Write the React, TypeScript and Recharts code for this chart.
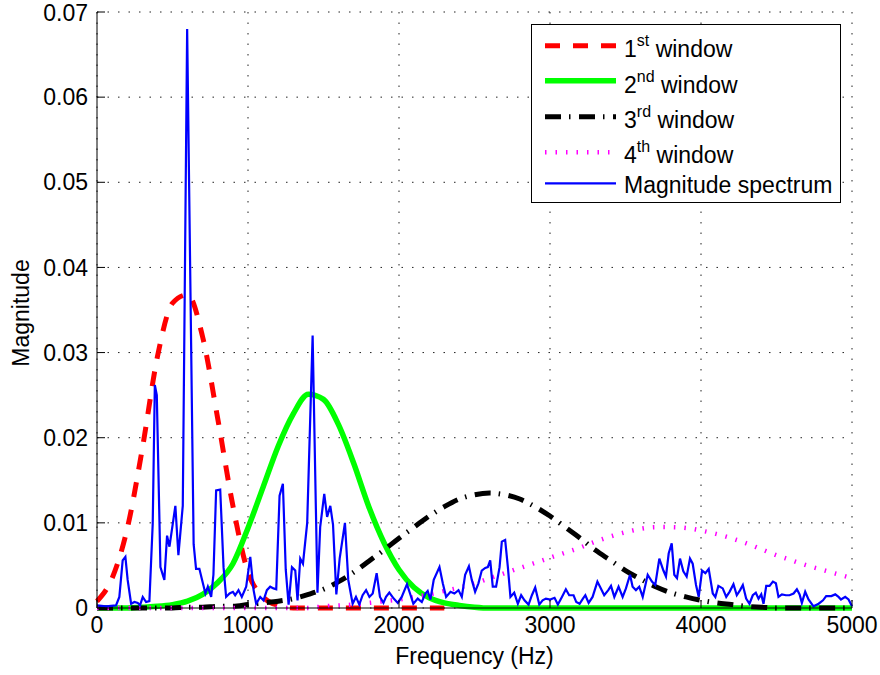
import React from "react";
import { LineChart, Line, XAxis, YAxis, CartesianGrid, Legend } from "recharts";

// analysis windows, sampled every 100 Hz
const windowFreq = [
  0, 100, 200, 300, 400, 500, 600, 700, 800, 900, 1000, 1100, 1200, 1300, 1400, 1500, 1600,
  1700, 1800, 1900, 2000, 2100, 2200, 2300, 2400, 2500, 2600, 2700, 2800, 2900, 3000, 3100,
  3200, 3300, 3400, 3500, 3600, 3700, 3800, 3900, 4000, 4100, 4200, 4300, 4400, 4500, 4600,
  4700, 4800, 4900, 5000,
];
const window1 = [
  0.0008, 0.0035, 0.0093, 0.0187, 0.0295, 0.0358, 0.0368, 0.0318, 0.0222, 0.012, 0.0042,
  0.0013, 0.0003, 0, 0, 0, 0, 0, 0, 0, 0, 0, 0, 0, null, null, null, null, null, null, null,
  null, null, null, null, null, null, null, null, null, null, null, null, null, null, null,
  null, null, null, null, null,
];
const window2 = [
  0, 0, 0, 0.0001, 0.0002, 0.0004, 0.0008, 0.0016, 0.003, 0.0052, 0.0094, 0.0142, 0.019,
  0.0228, 0.0251, 0.0245, 0.0215, 0.017, 0.0119, 0.0077, 0.0045, 0.0024, 0.0012, 0.0006,
  0.0003, 0.0001, 0, 0, 0, 0, 0, 0, 0, 0, 0, 0, 0, 0, 0, 0, 0, 0, 0, 0, 0, 0, 0, 0, 0, 0, 0,
];
const window3 = [
  0, 0, 0, 0, 0, 0, 0.0001, 0.0001, 0.0002, 0.0002, 0.0004, 0.0006, 0.0008, 0.0011, 0.0016,
  0.0022, 0.0031, 0.0042, 0.0055, 0.0068, 0.0082, 0.0095, 0.0108, 0.0119, 0.0128, 0.0133,
  0.0135, 0.0133, 0.0128, 0.0119, 0.0108, 0.0095, 0.0082, 0.0068, 0.0056, 0.0044, 0.0034,
  0.0025, 0.0018, 0.0013, 0.0009, 0.0006, 0.0004, 0.0002, 0.0001, 0, 0, 0, 0, 0, 0,
];
const window4 = [
  0, 0, 0, 0, 0, 0, 0, 0, 0, 0, 0, 0, 0, 0, 0, 0.0002, 0.0003, 0.0004, 0.0006, 0.0008, 0.001,
  0.0013, 0.0016, 0.002, 0.0024, 0.0029, 0.0035, 0.0041, 0.0047, 0.0053, 0.0059, 0.0065,
  0.0071, 0.0078, 0.0084, 0.0089, 0.0093, 0.0095, 0.0095, 0.0094, 0.0091, 0.0087, 0.0082,
  0.0076, 0.0069, 0.0062, 0.0056, 0.005, 0.0045, 0.004, 0.0035,
];

// magnitude spectrum (Hz, magnitude)
const spectrumFreq = [
  0, 60, 126, 148, 170, 188, 203, 226, 248, 270, 285, 303, 325, 347, 369, 383, 396, 420, 446,
  464, 480, 519, 539, 568, 597, 640, 656, 678, 696, 718, 734, 756, 771, 789, 816, 838, 855,
  878, 900, 915, 937, 959, 988, 1015, 1037, 1054, 1081, 1103, 1125, 1147, 1169, 1187, 1209,
  1231, 1250, 1269, 1291, 1313, 1328, 1346, 1364, 1392, 1428, 1460, 1478, 1505, 1524, 1545,
  1563, 1585, 1607, 1642, 1664, 1693, 1715, 1737, 1759, 1782, 1804, 1826, 1852, 1874, 1897,
  1914, 1936, 1965, 1992, 2018, 2053, 2073, 2095, 2124, 2151, 2175, 2190, 2208, 2230, 2268,
  2290, 2312, 2341, 2367, 2394, 2416, 2438, 2463, 2482, 2504, 2526, 2548, 2571, 2588, 2604,
  2621, 2643, 2666, 2681, 2703, 2721, 2738, 2763, 2787, 2809, 2831, 2858, 2880, 2902, 2929,
  2951, 2973, 3001, 3030, 3052, 3079, 3105, 3127, 3156, 3174, 3196, 3218, 3234, 3256, 3282,
  3314, 3337, 3359, 3386, 3404, 3426, 3454, 3481, 3503, 3530, 3547, 3569, 3591, 3614, 3647,
  3675, 3697, 3724, 3751, 3768, 3786, 3806, 3823, 3841, 3861, 3883, 3905, 3927, 3945, 3967,
  3985, 4007, 4029, 4051, 4078, 4095, 4115, 4144, 4167, 4189, 4215, 4237, 4259, 4277, 4299,
  4321, 4343, 4363, 4381, 4399, 4414, 4432, 4454, 4476, 4496, 4513, 4536, 4562, 4586, 4613,
  4635, 4653, 4668, 4690, 4712, 4745, 4779, 4808, 4829, 4863, 4889, 4911, 4927, 4955, 4977,
  5000,
];
const spectrumMag = [
  0.0003, 0.0002, 0.0003, 0.0013, 0.0056, 0.006, 0.0033, 0.0005, 0.0007, 0.0006, 0.0003,
  0.0013, 0.0007, 0.0008, 0.0099, 0.0262, 0.025, 0.0048, 0.0033, 0.0085, 0.0072, 0.012,
  0.0062, 0.012, 0.068, 0.0075, 0.0046, 0.0046, 0.0033, 0.0017, 0.0025, 0.0013, 0.0039,
  0.0138, 0.0139, 0.0048, 0.0013, 0.0017, 0.0019, 0.0015, 0.0021, 0.0013, 0.0025, 0.006,
  0.0021, 0.0005, 0.0013, 0.0009, 0.0021, 0.0025, 0.0023, 0.0022, 0.0132, 0.0146, 0.0045,
  0.0004, 0.0048, 0.0044, 0.0009, 0.0058, 0.0052, 0.01, 0.032, 0.0018, 0.0095, 0.0134,
  0.0107, 0.012, 0.0098, 0.0016, 0.0058, 0.01, 0.0033, 0.0005, 0.0013, 0.0004, 0.0015,
  0.0021, 0.0013, 0.0017, 0.0041, 0.0013, 0.0006, 0.0013, 0.0018, 0.0011, 0.0006, 0.0013,
  0.0028, 0.0017, 0.0005, 0.0011, 0.0007, 0.0017, 0.002, 0.001, 0.0033, 0.0048, 0.0029,
  0.0013, 0.0019, 0.0017, 0.0021, 0.0013, 0.0039, 0.0049, 0.0033, 0.0019, 0.0029, 0.0044,
  0.0047, 0.0048, 0.0056, 0.0025, 0.0025, 0.0048, 0.0078, 0.008, 0.0048, 0.0013, 0.0018,
  0.0005, 0.0015, 0.0009, 0.0004, 0.0015, 0.0024, 0.0004, 0.0009, 0.0011, 0.001, 0.0012,
  0.0004, 0.0013, 0.0022, 0.0015, 0.0015, 0.0007, 0.0005, 0.0011, 0.0015, 0.0006, 0.0013,
  0.0031, 0.0023, 0.0015, 0.0021, 0.0026, 0.0013, 0.0025, 0.0013, 0.0023, 0.0039, 0.0025,
  0.0021, 0.0025, 0.0013, 0.0039, 0.0031, 0.0027, 0.0058, 0.0044, 0.0037, 0.0064, 0.0076,
  0.0039, 0.0035, 0.0058, 0.0043, 0.0037, 0.0058, 0.0052, 0.0027, 0.0013, 0.0044, 0.0041,
  0.0046, 0.0017, 0.0013, 0.0026, 0.0023, 0.0013, 0.0019, 0.0028, 0.0015, 0.0021, 0.0027,
  0.0011, 0.0005, 0.0015, 0.0018, 0.0011, 0.0016, 0.0005, 0.0026, 0.0026, 0.0031, 0.0029,
  0.0013, 0.0016, 0.0015, 0.0015, 0.0017, 0.0022, 0.0016, 0.0006, 0.0019, 0.001, 0.0002,
  0.0005, 0.0009, 0.0014, 0.0014, 0.0016, 0.0013, 0.001, 0.0013, 0.001, 0.0002,
];

const xTicks = [0, 1000, 2000, 3000, 4000, 5000];
const yTicks = [0, 0.01, 0.02, 0.03, 0.04, 0.05, 0.06, 0.07];

const series = [
  { key: "w1", num: "1", sup: "st", name: " window", color: "#ff0000", width: 5, dash: "15 13" },
  { key: "w2", num: "2", sup: "nd", name: " window", color: "#00ff00", width: 5.5, dash: undefined },
  { key: "w3", num: "3", sup: "rd", name: " window", color: "#000000", width: 5, dash: "16 8 1.5 8.5" },
  { key: "w4", num: "4", sup: "th", name: " window", color: "#ff00ff", width: 4.5, dash: "1.5 9" },
  { key: "mag", num: "", sup: "", name: "Magnitude spectrum", color: "#0000ff", width: 2.2, dash: undefined },
];

const windowRows = windowFreq.map((f, i) => ({
  f,
  w1: window1[i],
  w2: window2[i],
  w3: window3[i],
  w4: window4[i],
}));
const spectrumRows = spectrumFreq.map((f, i) => ({ f, mag: spectrumMag[i] }));

const FONT = "'Liberation Sans', Arial, Helvetica, sans-serif";
const tickStyle = { fill: "#000", fontSize: 23, fontFamily: FONT };

const legendLineY = [21.7, 56.7, 92.7, 128.3, 159.3];
const legendBaseY = [32.5, 68.7, 104, 139.3, 169.3];

const renderLegend = () => (
  <svg width={310} height={179} style={{ display: "block" }}>
    <rect x={0.5} y={0.5} width={309} height={178} fill="#fff" stroke="#000" strokeWidth={1} />
    {series.map((s, i) => (
      <g key={s.key}>
        <line
          x1={14}
          x2={85}
          y1={legendLineY[i]}
          y2={legendLineY[i]}
          stroke={s.color}
          strokeWidth={s.width}
          strokeDasharray={s.dash}
        />
        <text x={93} y={legendBaseY[i]} fontSize={23} fontFamily={FONT} fill="#000">
          {s.num}
          {s.sup && (
            <tspan dy={-11} fontSize={16}>
              {s.sup}
            </tspan>
          )}
          <tspan dy={s.sup ? 11 : 0} fontSize={23}>
            {s.name}
          </tspan>
        </text>
      </g>
    ))}
  </svg>
);

const XLabel = (props: any) => {
  const vb = props.viewBox;
  return (
    <text x={vb.x + vb.width / 2} y={vb.y + 56} textAnchor="middle" fontSize={23} fontFamily={FONT} fill="#000">
      Frequency (Hz)
    </text>
  );
};

const YLabel = (props: any) => {
  const vb = props.viewBox;
  const cx = 29;
  const cy = vb.y + vb.height / 2 + 3;
  return (
    <text
      x={cx}
      y={cy}
      transform={`rotate(-90 ${cx} ${cy})`}
      textAnchor="middle"
      fontSize={23}
      fontFamily={FONT}
      fill="#000"
    >
      Magnitude
    </text>
  );
};

const fmtY = (v: number) => (v === 0 ? "0" : v.toFixed(2));

export default function App() {
  return (
    <div style={{ position: "absolute", left: 0, top: 0, background: "#fff" }}>
      <LineChart width={880} height={675} margin={{ top: 12, right: 28, left: 0, bottom: 37 }}>
        <CartesianGrid stroke="#222" strokeDasharray="1.5 9" />
        <XAxis
          dataKey="f"
          type="number"
          domain={[0, 5000]}
          ticks={xTicks}
          height={30}
          tickSize={-8}
          tickMargin={17}
          tick={tickStyle}
          axisLine={{ stroke: "#000" }}
          tickLine={{ stroke: "#000" }}
          label={<XLabel />}
        />
        <XAxis
          xAxisId="top"
          orientation="top"
          dataKey="f"
          type="number"
          domain={[0, 5000]}
          ticks={xTicks}
          height={0}
          tickSize={-8}
          tick={false}
          axisLine={{ stroke: "#000" }}
          tickLine={{ stroke: "#000" }}
        />
        <YAxis
          type="number"
          domain={[0, 0.07]}
          ticks={yTicks}
          width={97}
          tickSize={-8}
          tickMargin={17}
          tick={tickStyle}
          tickFormatter={fmtY}
          axisLine={{ stroke: "#000" }}
          tickLine={{ stroke: "#000" }}
          label={<YLabel />}
        />
        <YAxis
          yAxisId="right"
          orientation="right"
          type="number"
          domain={[0, 0.07]}
          ticks={yTicks}
          width={0}
          tickSize={-8}
          tick={false}
          axisLine={{ stroke: "#000" }}
          tickLine={{ stroke: "#000" }}
        />
        <Legend
          content={renderLegend}
          layout="horizontal"
          verticalAlign="middle"
          align="center"
          wrapperStyle={{ left: 531, top: 24, width: 310, height: 179 }}
        />
        {series.slice(0, 4).map((s) => (
          <Line
            key={s.key}
            data={windowRows}
            dataKey={s.key}
            type="monotone"
            stroke={s.color}
            strokeWidth={s.width}
            strokeDasharray={s.dash}
            dot={false}
            activeDot={false}
            isAnimationActive={false}
          />
        ))}
        <Line
          data={spectrumRows}
          dataKey="mag"
          type="linear"
          stroke="#0000ff"
          strokeWidth={2.2}
          dot={false}
          activeDot={false}
          isAnimationActive={false}
        />
      </LineChart>
    </div>
  );
}
